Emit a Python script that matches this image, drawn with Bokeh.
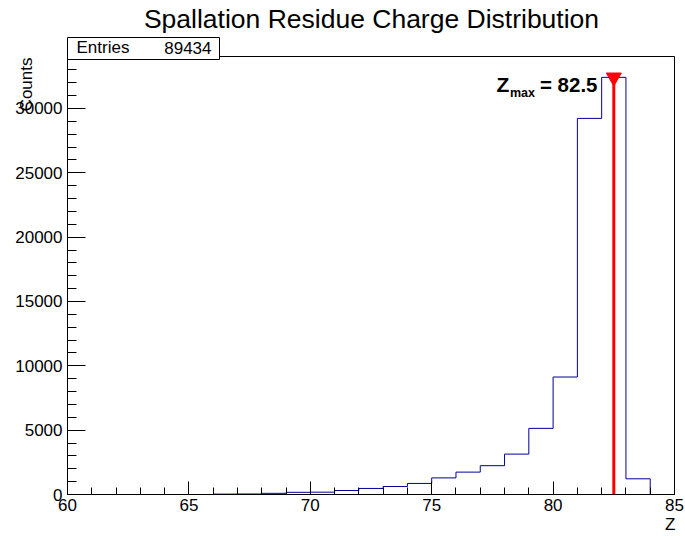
import math
from bokeh.plotting import figure
from bokeh.models import Label, BoxAnnotation, SingleIntervalTicker, Range1d
from bokeh.embed import file_html
from bokeh.resources import INLINE

# ---- data ----
title_text = "Spallation Residue Charge Distribution"
x_label = "Z"
y_label = "Counts"
x_min, x_max = 60, 85
bin_low = [66, 67, 68, 69, 70, 71, 72, 73, 74, 75, 76, 77, 78, 79, 80, 81, 82, 83]
bin_width = 1
counts = [30, 40, 90, 170, 180, 310, 470, 620, 860, 1290, 1740, 2240, 3140, 5140,
          9130, 29230, 32420, 1220]
entries = 89434
z_max = 82.5

FONT = "Liberation Sans"
W, H = 685, 536
# frame (ROOT pad frame) position in canvas pixels
FL, FR, FT, FB = 67, 674, 56, 494

y_top = 1.05 * max(counts)

# map canvas pixels so that the data frame lands at FL..FR / FT..FB
kx = (FR - FL) / (x_max - x_min)
ky = (FB - FT) / y_top
xr = Range1d(x_min - FL / kx, x_min + (W - FL) / kx)
yr = Range1d(-(H - FB) / ky, y_top + FT / ky)

def sx(cx):
    return cx

def sy(cy):
    return H - cy

p = figure(width=W, height=H, x_range=xr, y_range=yr,
           output_backend="svg", toolbar_location=None,
           min_border=0, min_border_left=0, min_border_right=0,
           min_border_top=0, min_border_bottom=0)
p.title.visible = False
p.background_fill_color = "white"
p.border_fill_color = "white"
p.outline_line_color = None
p.xgrid.visible = False
p.ygrid.visible = False

p.xaxis.ticker = SingleIntervalTicker(interval=5, num_minor_ticks=5)
p.yaxis.ticker = SingleIntervalTicker(interval=5000, num_minor_ticks=5)
p.xaxis.fixed_location = 0
p.yaxis.fixed_location = x_min
p.xaxis.bounds = (x_min, x_max)
p.yaxis.bounds = (0, y_top)
for ax in (p.xaxis, p.yaxis):
    ax.axis_line_color = "black"
    ax.major_tick_line_color = "black"
    ax.minor_tick_line_color = "black"
    ax.major_tick_out = 0
    ax.minor_tick_out = 0
    ax.major_label_text_font = FONT
    ax.major_label_text_font_size = "17px"
    ax.major_label_text_color = "black"
p.xaxis.major_tick_in = 13
p.xaxis.minor_tick_in = 7
p.yaxis.major_tick_in = 18
p.yaxis.minor_tick_in = 9
p.xaxis.major_label_standoff = 4
p.yaxis.major_label_standoff = 5

# frame box
p.add_layout(BoxAnnotation(left=x_min, right=x_max, bottom=0, top=y_top,
                           fill_alpha=0, line_color="black", line_width=1, line_alpha=1.0))

# histogram outline (ROOT style step)
xs = [bin_low[0]]
ys = [0]
for lo, c in zip(bin_low, counts):
    xs += [lo, lo + bin_width]
    ys += [c, c]
xs.append(bin_low[-1] + bin_width)
ys.append(0)
p.line(xs, ys, line_color="#000099", line_width=1)

# Z max marker
p.segment(x0=[z_max], y0=[0], x1=[z_max], y1=[max(counts)], line_color="red", line_width=3)
p.scatter(x=[z_max], y=[max(counts)], marker="inverted_triangle", size=15,
          fill_color="red", line_color="red")

BASE_K = 0.4  # empirical shift of the alphabetic anchor (fraction of font size)

def lab(cx, cy, text, size, align="left", bold=False, angle=0.0, baseline="alphabetic"):
    px = float(size.replace("px", ""))
    if baseline == "alphabetic":
        cy = cy - BASE_K * px
    p.add_layout(Label(x=sx(cx), y=sy(cy), x_units="screen", y_units="screen", text=text,
                       text_font=FONT, text_font_size=size,
                       text_font_style="bold" if bold else "normal",
                       text_color="black", text_align=align, text_baseline=baseline,
                       angle=angle))

# Z_max label
lab(496, 92, "Z", "21px", bold=True)
lab(509.5, 97, "max", "12.5px", bold=True)
lab(597, 92, f"= {z_max}", "20.5px", align="right", bold=True)

# title
lab(371, 29, title_text, "26.5px", align="center")

# axis titles
lab(675, 531, x_label, "17px", align="right")
lab(26, 57, y_label, "17px", align="right", angle=math.pi / 2, baseline="middle")

# stats box
p.add_layout(BoxAnnotation(left=sx(67), right=sx(219), top=sy(37), bottom=sy(59),
                           left_units="screen", right_units="screen",
                           top_units="screen", bottom_units="screen",
                           fill_color="white", fill_alpha=1.0,
                           line_color="black", line_width=1, line_alpha=1.0))
lab(76, 54, "Entries", "17px")
lab(211, 54, str(entries), "17px", align="right")

open("out.html", "w").write(file_html(p, INLINE))
